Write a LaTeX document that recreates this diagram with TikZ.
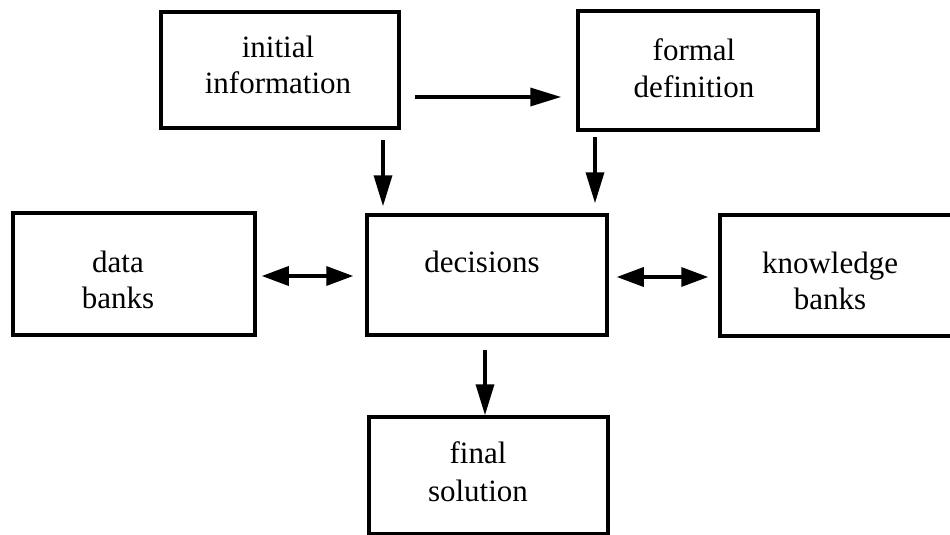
\documentclass[tikz,border=0pt]{standalone}
\usepackage{fontspec}
\setmainfont{Liberation Serif}
\usetikzlibrary{arrows.meta}
\begin{document}
\begin{tikzpicture}[x=1pt,y=-1pt,
  box/.style={draw=black,line width=3.5pt,rectangle,inner sep=0pt},
  txt/.style={font=\fontsize{31}{36}\selectfont,align=center,inner sep=0pt,anchor=base},
  arr/.style={line width=3.5pt,-{Triangle[length=31pt,width=18pt]}},
  darr/.style={line width=3.5pt,{Triangle[length=27pt,width=19pt]}-{Triangle[length=27pt,width=19pt]}}]
\useasboundingbox (0,0) rectangle (950,535);
\clip (0,0) rectangle (950,535);
% boxes
\node[box,minimum width=238pt,minimum height=116pt] (initial) at (280,70) {};
\node[box,minimum width=240pt,minimum height=119pt] (formal) at (698,70.5) {};
\node[box,minimum width=242pt,minimum height=122pt] (data) at (134,274) {};
\node[box,minimum width=240pt,minimum height=120pt] (decisions) at (487,275) {};
\node[box,minimum width=245pt,minimum height=121pt] (knowledge) at (842.5,275.5) {};
\node[box,minimum width=239pt,minimum height=117pt] (final) at (488.5,475.5) {};
% texts (anchor = baseline of last line)
\node[txt] (tinitial) at (278,93) {initial\\information};
\node[txt] (tformal) at (694,97) {formal\\definition};
\node[txt] (tdata) at (118,308) {data\\banks};
\node[txt] (tdecisions) at (482,272) {decisions};
\node[txt] (tknowledge) at (830,309) {knowledge\\banks};
\node[txt, font=\fontsize{31}{38}\selectfont] (tfinal) at (478,501) {final\\solution};
% connectors
\draw[arr,shorten <=14pt,shorten >=15pt] ([yshift=-27pt]initial.east) -- ([yshift=-27pt]initial.east -| formal.west) ;
\draw[arr,shorten <=10pt,shorten >=7pt] ([xshift=103pt]initial.south) -- ([xshift=103pt]initial.south |- decisions.north);
\draw[arr,shorten <=5pt,shorten >=10pt] ([xshift=-103pt]formal.south) -- ([xshift=-103pt]formal.south |- decisions.north);
\draw[darr,shorten <=5pt,shorten >=12pt] ([yshift=-2pt]data.east) -- ([yshift=-2pt]data.east -| decisions.west);
\draw[darr,shorten <=8pt,shorten >=10pt] ([yshift=-2pt]decisions.east) -- ([yshift=-2pt]decisions.east -| knowledge.west);
\draw[arr,shorten <=13pt,shorten >=0pt] ([xshift=-2pt]decisions.south) -- ([xshift=-2pt]decisions.south |- final.north);
\end{tikzpicture}
\end{document}
